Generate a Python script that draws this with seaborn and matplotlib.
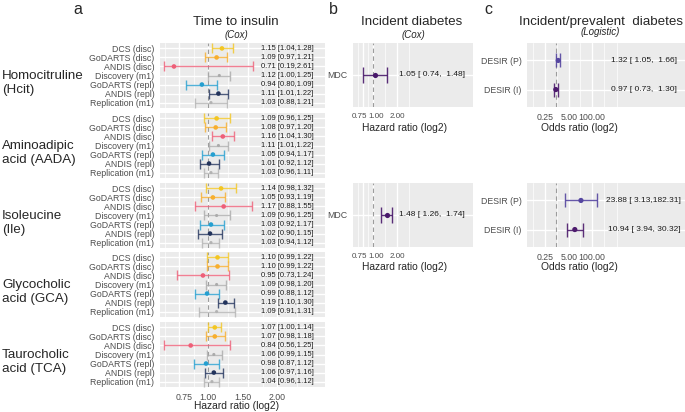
import numpy as np
import pandas as pd
import matplotlib
matplotlib.use("Agg")
import matplotlib.pyplot as plt
import seaborn as sns
from matplotlib.ticker import NullFormatter
from matplotlib.transforms import blended_transform_factory, ScaledTranslation

# ---- datos ----
cohortes = ["DCS (disc)", "GoDARTS (disc)", "ANDIS (disc)", "Discovery (m1)",
            "GoDARTS (repl)", "ANDIS (repl)", "Replication (m1)"]
metabolitos = ["Homocitruline\n(Hcit)", "Aminoadipic\nacid (AADA)", "Isoleucine\n(Ile)",
               "Glycocholic\nacid (GCA)", "Taurocholic\nacid (TCA)"]

hr_hcit = [1.15, 1.09, 0.71, 1.12, 0.94, 1.11, 1.03]
lo_hcit = [1.04, 0.97, 0.19, 1.00, 0.80, 1.01, 0.88]
hi_hcit = [1.28, 1.21, 2.61, 1.25, 1.09, 1.22, 1.21]

hr_aada = [1.09, 1.08, 1.16, 1.11, 1.05, 1.01, 1.03]
lo_aada = [0.96, 0.97, 1.04, 1.01, 0.94, 0.92, 0.96]
hi_aada = [1.25, 1.20, 1.30, 1.22, 1.17, 1.12, 1.11]

hr_ile = [1.14, 1.05, 1.17, 1.09, 1.03, 1.02, 1.03]
lo_ile = [0.98, 0.93, 0.88, 0.96, 0.92, 0.90, 0.94]
hi_ile = [1.32, 1.19, 1.55, 1.25, 1.17, 1.15, 1.12]

hr_gca = [1.10, 1.10, 0.95, 1.09, 0.99, 1.19, 1.09]
lo_gca = [0.99, 0.99, 0.73, 0.98, 0.88, 1.10, 0.91]
hi_gca = [1.22, 1.22, 1.24, 1.20, 1.12, 1.30, 1.31]

hr_tca = [1.07, 1.07, 0.84, 1.06, 0.98, 1.06, 1.04]
lo_tca = [1.00, 0.98, 0.56, 0.99, 0.87, 0.97, 0.96]
hi_tca = [1.14, 1.18, 1.25, 1.15, 1.12, 1.16, 1.12]

mdc_hr = [1.05, 1.48]
mdc_lo = [0.74, 1.26]
mdc_hi = [1.48, 1.74]

desir = ["DESIR (P)", "DESIR (I)"]
desir_hr_top = [1.32, 0.97]
desir_lo_top = [1.05, 0.73]
desir_hi_top = [1.66, 1.30]
desir_hr_bot = [23.88, 10.94]
desir_lo_bot = [3.13, 3.94]
desir_hi_bot = [182.31, 30.32]

colores = {"DCS (disc)": "#F3C623", "GoDARTS (disc)": "#F7AE2E", "ANDIS (disc)": "#EE5F78",
           "Discovery (m1)": "#ABABAB", "GoDARTS (repl)": "#259FD0", "ANDIS (repl)": "#22335C",
           "Replication (m1)": "#B3B3B3"}
tamanos = {c: (5 if "m1" in c else 11) for c in cohortes}
color_mdc = "#48186A"
colores_desir = {"DESIR (P)": "#5546A0", "DESIR (I)": "#4C1A6C"}

# ---- figura ----
sns.set_theme(style="white")
plt.rcParams["font.family"] = ["Liberation Sans", "DejaVu Sans"]

W, H = 685, 412
fig = plt.figure(figsize=(W / 100, H / 100), dpi=100)
GRIS = "#EBEBEB"
TXT = "#4D4D4D"


def add_ax(x0, y0, x1, y1):
    return fig.add_axes([x0 / W, 1 - y1 / H, (x1 - x0) / W, (y1 - y0) / H])


def ftext(x, y, s, **kw):
    fig.text(x / W, 1 - y / H, s, **kw)


def estilo(ax, xlim, mayores, etiquetas, menores, filas, mostrar_x, desplaz=None, tam=6.3):
    ax.set_facecolor(GRIS)
    for sp in ax.spines.values():
        sp.set_visible(False)
    ax.set_xscale("log", base=2)
    ax.set_xlim(*xlim)
    ax.set_xticks(mayores)
    ax.set_xticklabels(etiquetas)
    ax.set_xticks(menores, minor=True)
    ax.xaxis.set_minor_formatter(NullFormatter())
    ax.set_yticks(range(len(filas)))
    ax.set_yticklabels(filas)
    ax.set_ylim(len(filas) - 1 + 0.6, -0.6)
    ax.grid(which="major", color="white", lw=1.0)
    ax.grid(which="minor", axis="x", color="white", lw=0.5)
    ax.set_axisbelow(True)
    ax.tick_params(which="major", length=2.5, width=0.6, color="#333333",
                   labelsize=6.3, labelcolor=TXT, pad=1.5)
    ax.tick_params(axis="x", labelsize=tam)
    ax.tick_params(which="minor", length=0)
    if not mostrar_x:
        ax.tick_params(axis="x", which="both", length=0, labelbottom=False)
    if desplaz is not None:
        # pequeños corrimientos de las etiquetas, como en la figura original
        for lab, dx in zip(ax.get_xticklabels(), desplaz):
            lab.set_transform(lab.get_transform() + ScaledTranslation(dx / 100, 0, fig.dpi_scale_trans))
    ax.set_xlabel("")
    ax.set_ylabel("")
    ax.axvline(1, color="#9C9C9C", ls=(0, (4, 3)), lw=0.8, zorder=1.5)


def dibujar(ax, filas, hr, lo, hi, paleta, sizes, capsize, recorte=None, alpha=0.8):
    df = pd.DataFrame({"fila": filas, "hr": hr, "lo": lo, "hi": hi, "y": range(len(filas))})
    if recorte is not None:
        df["lo"] = df["lo"].clip(lower=recorte[0])
        df["hi"] = df["hi"].clip(upper=recorte[1])
    for _, r in df.iterrows():
        ax.errorbar(r["hr"], r["y"], xerr=[[r["hr"] - r["lo"]], [r["hi"] - r["hr"]]],
                    fmt="none", ecolor=paleta[r["fila"]], elinewidth=1.0, capsize=capsize,
                    capthick=1.0, alpha=alpha, zorder=2)
    sns.scatterplot(data=df, x="hr", y="y", hue="fila", palette=paleta, size="fila",
                    sizes=sizes, linewidth=0, legend=False, ax=ax, zorder=3)


# ---- panel a ----
datos_a = [(hr_hcit, lo_hcit, hi_hcit), (hr_aada, lo_aada, hi_aada), (hr_ile, lo_ile, hi_ile),
           (hr_gca, lo_gca, hi_gca), (hr_tca, lo_tca, hi_tca)]
tops = [43, 113, 183, 252, 322]
for i, ((hr, lo, hi), nombre, top) in enumerate(zip(datos_a, metabolitos, tops)):
    ax = add_ax(160, top, 325, top + 65)
    dibujar(ax, cohortes, hr, lo, hi, colores, tamanos, 3.5, recorte=(0.645, 1.57))
    estilo(ax, (0.617, 3.24), [0.75, 1, 1.5, 2], ["0.75", "1.00", "1.50", "2.00"],
           [0.65, 0.866, 1.225, 1.73, 2.45], cohortes, i == 4, desplaz=[5, 0, -6, 0])
    tr = blended_transform_factory(ax.transAxes, ax.transData)
    for y, (h, l, u) in enumerate(zip(hr, lo, hi)):
        ax.text(0.77, y, f"{h:.2f} [{l:.2f},{u:.2f}]", transform=tr, ha="center",
                va="center", fontsize=5.4, color="#1A1A1A")
    ftext(2, top + 40, nombre, fontsize=9.6, ha="left", va="center", linespacing=1.25)

ftext(78, 9, "a", fontsize=11.5, ha="center", va="center")
ftext(236, 22, "Time to insulin", fontsize=9.6, ha="center", va="center")
ftext(236, 35, "(Cox)", fontsize=7, style="italic", ha="center", va="center")
ftext(237, 406, "Hazard ratio (log2)", fontsize=7.4, ha="center", va="center")

# ---- panel b ----
for k, (top, ylab) in enumerate([(43, 128), (183, 267)]):
    ax = add_ax(353, top, 473, top + 64)
    dibujar(ax, ["MDC"], [mdc_hr[k]], [mdc_lo[k]], [mdc_hi[k]], {"MDC": color_mdc},
            {"MDC": 14}, 5.5, alpha=0.9)
    estilo(ax, (0.561, 18.0), [0.75, 1, 2], ["0.75", "1.00", "2.00"],
           [0.65, 0.866, 1.41, 2.83], ["MDC"], True, desplaz=[-3.5, 3.5, 0], tam=5.8)
    ax.text(0.658, 0, f"{mdc_hr[k]:.2f} [{mdc_lo[k]:5.2f},{mdc_hi[k]:6.2f}]",
            transform=blended_transform_factory(ax.transAxes, ax.transData),
            ha="center", va="center", fontsize=6, color="#1A1A1A")
    ftext(405, ylab, "Hazard ratio (log2)", fontsize=7.4, ha="center", va="center")

ftext(333, 9, "b", fontsize=11.5, ha="center", va="center")
ftext(412, 22, "Incident diabetes", fontsize=9.6, ha="center", va="center")
ftext(413, 35, "(Cox)", fontsize=7, style="italic", ha="center", va="center")

# ---- panel c ----
datos_c = [(desir_hr_top, desir_lo_top, desir_hi_top), (desir_hr_bot, desir_lo_bot, desir_hi_bot)]
for k, ((hr, lo, hi), top, ylab) in enumerate(zip(datos_c, [43, 183], [128, 267])):
    ax = add_ax(527, top, 685, top + 64)
    dibujar(ax, desir, hr, lo, hi, colores_desir, {d: 14 for d in desir}, 5.0, alpha=0.9)
    estilo(ax, (0.0248, 1.36e7), [0.25, 5, 100], ["0.25", "5.00", "100.00"],
           [0.056, 1.118, 22.3, 446, 2350], desir, True)
    tr = blended_transform_factory(ax.transAxes, ax.transData)
    for y, (h, l, u) in enumerate(zip(hr, lo, hi)):
        ax.text(0.74, y, f"{h:.2f} [{l:5.2f},{u:6.2f}]", transform=tr, ha="center",
                va="center", fontsize=6, color="#1A1A1A")
    ftext(579, ylab, "Odds ratio (log2)", fontsize=7.4, ha="center", va="center")

ftext(488, 9, "c", fontsize=11.5, ha="center", va="center")
ftext(601, 22, "Incident/prevalent  diabetes", fontsize=9.6, ha="center", va="center")
ftext(600, 32, "(Logistic)", fontsize=7, style="italic", ha="center", va="center")

fig.savefig("out.png", dpi=100)
